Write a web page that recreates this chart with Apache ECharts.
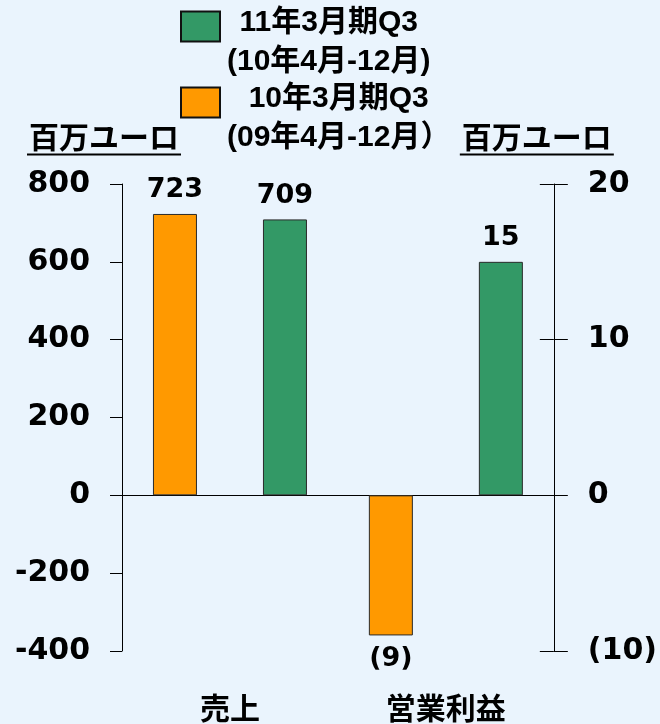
<!DOCTYPE html>
<html>
<head>
<meta charset="utf-8">
<script src="https://cdn.jsdelivr.net/npm/echarts@6/dist/echarts.min.js"></script>
<style>
  html, body { margin: 0; padding: 0; background: #EAF4FD; }
  #chart { width: 660px; height: 724px; }
</style>
</head>
<body>
<div id="chart"></div>
<script>
// Quarterly results (Q3 cumulative), 百万ユーロ
const categories = ['売上', '営業利益'];
const seriesNames = ['11年3月期Q3', '10年3月期Q3'];
const periodNotes = ['(10年4月-12月)', '(09年4月-12月）'];
// index 0 = 売上 (left axis), index 1 = 営業利益 (right axis)
const currentValues = [709, 15];
const priorValues = [723, -9];
const leftAxisRange = { min: -400, max: 800, interval: 200 };
const rightAxisRange = { min: -10, max: 20, interval: 10 };

const GREEN = '#339966';
const ORANGE = '#FF9900';
const EDGE = '#2a2a2a';
const NUM_FONT = 'DejaVu Sans';
const JP_FONT = '"Liberation Sans", "Noto Sans CJK JP", sans-serif';

const paren = v => (v < 0 ? '(' + (-v) + ')' : String(v));

const valueLabel = pos => ({
  show: true,
  position: pos,
  distance: 10,
  fontFamily: NUM_FONT,
  fontSize: 27,
  fontWeight: 'bold',
  color: '#000',
  formatter: p => paren(p.value)
});

// unit caption above each value axis, underlined
const unitName = shift => ({
  name: '{t|百万ユーロ}\n{u| }',
  nameLocation: 'end',
  nameGap: 28,
  nameTextStyle: {
    align: 'center',
    padding: [0, shift, 0, 0],
    rich: {
      t: { fontFamily: '"Noto Sans CJK JP"', fontSize: 30, fontWeight: 'bold', color: '#000', lineHeight: 32 },
      u: { width: 154, height: 2, lineHeight: 3, fontSize: 1, backgroundColor: '#000' }
    }
  }
});

const chart = echarts.init(document.getElementById('chart'), null, { renderer: 'canvas' });

chart.setOption({
  backgroundColor: '#EAF4FD',
  animation: false,
  grid: { left: 122, right: 102, top: 184, bottom: 73, containLabel: false },
  legend: {
    orient: 'vertical',
    left: 175,
    top: 3,
    icon: 'rect',
    itemWidth: 39,
    itemHeight: 30,
    itemGap: 7,
    selectedMode: false,
    data: seriesNames,
    itemStyle: { borderColor: '#111', borderWidth: 2 },
    formatter: name => '{a|' + name + '}\n{a|' + periodNotes[seriesNames.indexOf(name)] + '}',
    textStyle: {
      padding: [32, 0, 0, 2],
      rich: {
        a: { fontFamily: JP_FONT, fontSize: 30, fontWeight: 'bold', color: '#000', lineHeight: 39, align: 'center' }
      }
    }
  },
  xAxis: [
    {
      type: 'category',
      data: categories,
      position: 'bottom',
      axisLine: { show: false, onZero: false },
      axisTick: { show: false },
      axisLabel: { margin: 42, fontFamily: '"Noto Sans CJK JP"', fontSize: 30, fontWeight: 'bold', color: '#000' }
    },
    {
      // zero baseline across the plot
      type: 'category',
      data: categories,
      position: 'top',
      axisLine: { show: true, onZero: true, lineStyle: { color: '#000', width: 1 } },
      axisTick: { show: false },
      axisLabel: { show: false }
    }
  ],
  yAxis: [
    Object.assign({
      type: 'value',
      position: 'left',
      min: leftAxisRange.min,
      max: leftAxisRange.max,
      interval: leftAxisRange.interval,
      axisLine: { show: true, lineStyle: { color: '#000', width: 1 } },
      axisTick: { show: true, length: 12, lineStyle: { color: '#000', width: 1 } },
      splitLine: { show: false },
      axisLabel: { margin: 32, fontFamily: NUM_FONT, fontSize: 30, fontWeight: 'bold', color: '#000' }
    }, unitName(36)),
    Object.assign({
      type: 'value',
      position: 'right',
      min: rightAxisRange.min,
      max: rightAxisRange.max,
      interval: rightAxisRange.interval,
      axisLine: { show: true, lineStyle: { color: '#000', width: 1 } },
      axisTick: { show: true, length: 14, lineStyle: { color: '#000', width: 1 } },
      splitLine: { show: false },
      axisLabel: { margin: 34, fontFamily: NUM_FONT, fontSize: 30, fontWeight: 'bold', color: '#000', formatter: paren }
    }, unitName(34)),
    {
      // inward half of the right-hand ticks
      type: 'value',
      position: 'right',
      min: rightAxisRange.min,
      max: rightAxisRange.max,
      interval: rightAxisRange.interval,
      axisLine: { show: false },
      axisTick: { show: true, inside: true, length: 14, lineStyle: { color: '#000', width: 1 } },
      splitLine: { show: false },
      axisLabel: { show: false }
    }
  ],
  series: [
    {
      name: seriesNames[1], type: 'bar', xAxisIndex: 0, yAxisIndex: 0, stack: 'prior',
      barWidth: 44, barGap: '150%',
      itemStyle: { color: ORANGE, borderColor: EDGE, borderWidth: 1 },
      label: valueLabel('top'),
      data: [priorValues[0], null]
    },
    {
      name: seriesNames[0], type: 'bar', xAxisIndex: 0, yAxisIndex: 0, stack: 'current',
      barWidth: 44, barGap: '150%',
      itemStyle: { color: GREEN, borderColor: EDGE, borderWidth: 1 },
      label: valueLabel('top'),
      data: [currentValues[0], null]
    },
    {
      name: seriesNames[1], type: 'bar', xAxisIndex: 0, yAxisIndex: 1, stack: 'prior',
      barWidth: 44, barGap: '150%',
      itemStyle: { color: ORANGE, borderColor: EDGE, borderWidth: 1 },
      label: valueLabel('bottom'),
      data: [null, priorValues[1]]
    },
    {
      name: seriesNames[0], type: 'bar', xAxisIndex: 0, yAxisIndex: 1, stack: 'current',
      barWidth: 44, barGap: '150%',
      itemStyle: { color: GREEN, borderColor: EDGE, borderWidth: 1 },
      label: valueLabel('top'),
      data: [null, currentValues[1]]
    }
  ]
});
</script>
</body>
</html>
